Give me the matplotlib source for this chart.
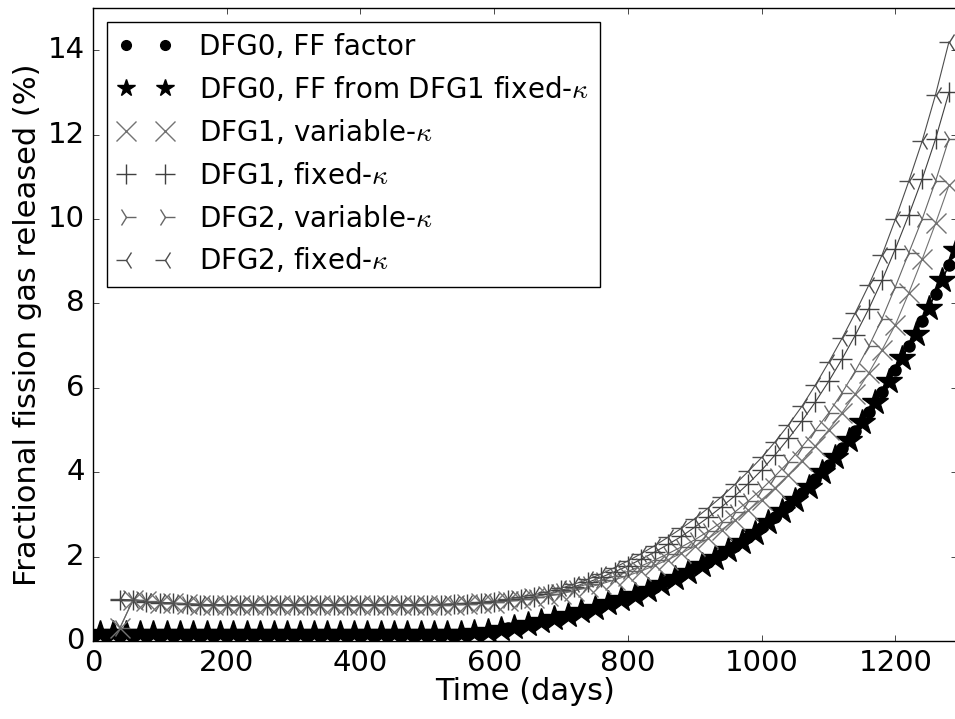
import matplotlib
matplotlib.use('Agg')
import matplotlib.pyplot as plt
import numpy as np

plt.style.use('classic')

# times (days) at which each run was written out
t_ff = np.arange(0, 1281, 20)
t_ff_dfg1 = np.arange(10, 1291, 20)
t_dfg = np.arange(40, 1281, 20)

# fractional fission gas released (%)
fgr_ff_factor = [0.12] * 27 + [
    0.14, 0.16, 0.2, 0.24, 0.3, 0.36, 0.43, 0.5, 0.58, 0.66, 0.74, 0.84, 0.94,
    1.04, 1.16, 1.28, 1.42, 1.56, 1.72, 1.88, 2.06, 2.25, 2.46, 2.69, 2.94, 3.21,
    3.5, 3.83, 4.18, 4.57, 4.98, 5.43, 5.91, 6.43, 6.99, 7.59, 8.23, 8.91]

fgr_ff_dfg1 = [0.2] * 26 + [
    0.2, 0.2, 0.22, 0.24, 0.28, 0.33, 0.4, 0.47, 0.54, 0.62, 0.7, 0.79, 0.89,
    0.99, 1.1, 1.22, 1.35, 1.49, 1.64, 1.8, 1.97, 2.15, 2.35, 2.57, 2.81, 3.07,
    3.35, 3.66, 4.0, 4.37, 4.77, 5.2, 5.66, 6.16, 6.7, 7.28, 7.9, 8.56, 9.26]

fgr_dfg1_var = [0.3, 0.98, 0.94, 0.91, 0.89, 0.87, 0.86] + [0.85] * 17 + [
    0.85, 0.86, 0.87, 0.89, 0.91, 0.94, 0.97, 1.01, 1.06, 1.12, 1.19, 1.27, 1.35,
    1.45, 1.55, 1.66, 1.79, 1.93, 2.08, 2.25, 2.43, 2.64, 2.86, 3.1, 3.35, 3.63,
    3.94, 4.27, 4.62, 5.0, 5.41, 5.86, 6.35, 6.9, 7.5, 8.25, 9.05, 9.9, 10.8]

fgr_dfg1_fix = [0.98, 0.96, 0.93, 0.91, 0.89, 0.87, 0.86] + [0.85] * 17 + [
    0.86, 0.87, 0.88, 0.9, 0.93, 0.96, 1.0, 1.05, 1.12, 1.2, 1.29, 1.39, 1.51,
    1.64, 1.78, 1.94, 2.11, 2.29, 2.48, 2.7, 2.93, 3.18, 3.44, 3.73, 4.05, 4.41,
    4.8, 5.21, 5.66, 6.15, 6.68, 7.25, 7.87, 8.55, 9.3, 10.1, 10.95, 11.9, 13.0]

fgr_dfg2_var = [0.3, 0.98, 0.94, 0.91, 0.89, 0.87, 0.86] + [0.86] * 17 + [
    0.86, 0.87, 0.88, 0.9, 0.93, 0.96, 1.0, 1.05, 1.11, 1.18, 1.26, 1.35, 1.44,
    1.54, 1.65, 1.78, 1.92, 2.07, 2.23, 2.4, 2.6, 2.82, 3.06, 3.32, 3.6, 3.91,
    4.24, 4.6, 4.99, 5.4, 5.88, 6.4, 6.98, 7.64, 8.4, 9.2, 10.0, 10.9, 11.9]

fgr_dfg2_fix = [0.99, 0.97, 0.94, 0.92, 0.9, 0.88, 0.87] + [0.86] * 17 + [
    0.87, 0.88, 0.9, 0.92, 0.95, 0.99, 1.04, 1.1, 1.17, 1.25, 1.35, 1.46, 1.59,
    1.74, 1.9, 2.07, 2.26, 2.46, 2.67, 2.9, 3.15, 3.42, 3.71, 4.02, 4.35, 4.72,
    5.12, 5.56, 6.06, 6.6, 7.17, 7.78, 8.43, 9.15, 10.0, 10.9, 11.85, 12.95, 14.2]

runs = [
    (t_ff, fgr_ff_factor, 'o', 'k', 8, 'DFG0, FF factor'),
    (t_ff_dfg1, fgr_ff_dfg1, '*', 'k', 19, r'DFG0, FF from DFG1 fixed-$\kappa$'),
    (t_dfg, fgr_dfg1_var, 'x', '0.45', 14, r'DFG1, variable-$\kappa$'),
    (t_dfg, fgr_dfg1_fix, '+', '0.25', 14, r'DFG1, fixed-$\kappa$'),
    (t_dfg, fgr_dfg2_var, '4', '0.4', 14, r'DFG2, variable-$\kappa$'),
    (t_dfg, fgr_dfg2_fix, '3', '0.3', 14, r'DFG2, fixed-$\kappa$'),
]

fig = plt.figure(figsize=(9.55, 7.19), dpi=100, facecolor='w')
ax = fig.add_axes([93/955., 78/719., 864/955., 633/719.])

for t, fgr, mk, col, ms, lab in runs:
    ax.plot(t, fgr, '-', color=col, lw=0.8, label='_nolegend_')
for t, fgr, mk, col, ms, lab in runs:
    ax.plot(t, fgr, linestyle='none', marker=mk, color=col, mec=col, mfc=col,
            ms=ms, mew=1.0, label=lab)

ax.set_xlim(0, 1292)
ax.set_ylim(0, 15)
ax.set_xticks([0, 200, 400, 600, 800, 1000, 1200])
ax.set_yticks([0, 2, 4, 6, 8, 10, 12, 14])
ax.tick_params(labelsize=21, pad=6)
ax.set_xlabel('Time (days)', fontsize=22, labelpad=0)
ax.set_ylabel('Fractional fission gas released (%)', fontsize=22, labelpad=4)

leg = ax.legend(loc='upper left', numpoints=2, fontsize=20, handlelength=2.0,
                handletextpad=0.9, labelspacing=0.5, borderpad=0.4,
                borderaxespad=0.5)
# legend symbols for the DFG0 runs are drawn smaller than on the curves
for h in leg.legend_handles:
    if h.get_marker() == '*':
        h.set_markersize(13)
    elif h.get_marker() == 'o':
        h.set_markersize(7)

fig.savefig('out.png', dpi=100)
